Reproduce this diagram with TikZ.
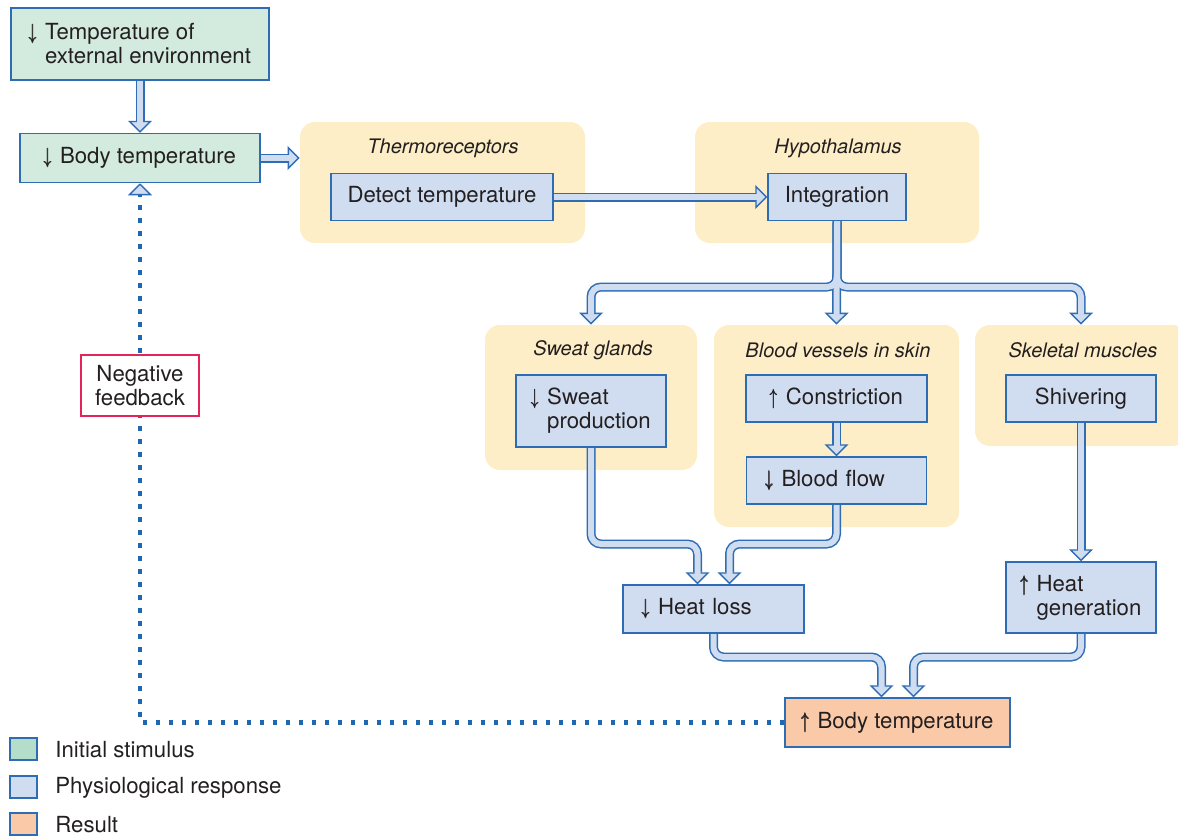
\documentclass[tikz,border=0pt]{standalone}
\usepackage{amsmath}
\usepackage{fontspec}
\setmainfont{TeX Gyre Heros}
\usetikzlibrary{arrows.meta}
\definecolor{ink}{HTML}{231F20}
\definecolor{boxline}{HTML}{2E6DB4}
\definecolor{respfill}{HTML}{D0DDF0}
\definecolor{stimfill}{HTML}{D3EADF}
\definecolor{stimkey}{HTML}{B4DEC9}
\definecolor{resfill}{HTML}{FAC9A7}
\definecolor{panelfill}{HTML}{FDEEC7}
\definecolor{dotline}{HTML}{1E68B2}
\definecolor{feedred}{HTML}{E3245A}
\pgfdeclarelayer{back}
\pgfdeclarelayer{pipes}
\pgfdeclarelayer{pipefill}
\pgfsetlayers{back,pipes,pipefill,main}
\newcommand\arrdown{\makebox[8pt][l]{\scalebox{0.7}[1]{$\pmb{\downarrow}$}}}
\newcommand\arrup{\makebox[8pt][l]{\scalebox{0.7}[1]{$\pmb{\uparrow}$}}}
\newcommand\arrpad{\hspace*{8pt}}
\tikzset{
	box/.style={draw=boxline, line width=0.75pt, fill=respfill, text=ink, inner sep=0pt, minimum height=23.5pt, align=center},
	lbox/.style={box, align=left, inner xsep=9.5pt},
	panel/.style={fill=panelfill, rounded corners=7.5pt, inner sep=0pt},
	paneltitle/.style={text=ink, font=\itshape},
	pipeout/.style={draw=boxline, line width=4.5pt, rounded corners=5pt, -{Triangle[length=6pt, width=12pt, line width=0.7pt, fill=respfill]}},
	pipein/.style={draw=respfill, line width=3pt, rounded corners=5pt, shorten >=5pt},
	feedback/.style={draw=dotline, line width=2.2pt, dash pattern=on 2.2pt off 4.3pt, -{Triangle[length=6pt, width=12pt, line width=0.7pt, fill=respfill, color=boxline]}},
	keybox/.style={draw=boxline, line width=0.75pt, minimum width=13.5pt, minimum height=11pt, inner sep=0pt},
	keytext/.style={text=ink, anchor=west, inner sep=0pt}
}
\newcommand\pipe[1]{%
	\begin{pgfonlayer}{pipes}\draw[pipeout] #1;\end{pgfonlayer}
	\begin{pgfonlayer}{pipefill}\draw[pipein] #1;\end{pgfonlayer}}
\begin{document}
\begin{tikzpicture}[x=0.5pt, y=-0.5pt, font=\fontsize{11.1}{12}\selectfont]
	\useasboundingbox (0,0) rectangle (1178,836);
	\begin{pgfonlayer}{back}
		\node[panel, minimum width=142.5pt, minimum height=60.5pt] (thermo) at (442.5,182.5) {};
		\node[panel, minimum width=142pt, minimum height=60.5pt] (hypo) at (837,182.5) {};
		\node[panel, minimum width=106pt, minimum height=72.5pt] (sweatp) at (591,397.5) {};
		\node[panel, minimum width=122.5pt, minimum height=101pt] (vesselp) at (836.5,426) {};
		\begin{scope}
			\clip (0,0) rectangle (1178,836);
			\node[panel, minimum width=106pt, minimum height=60.5pt] (musclep) at (1081,385.5) {};
		\end{scope}
	\end{pgfonlayer}
	\node[paneltitle] (thermotitle) at (443,148) {Thermoreceptors};
	\node[paneltitle] (hypotitle) at (838,148) {Hypothalamus};
	\node[paneltitle] (sweattitle) at (593,350) {Sweat glands};
	\node[paneltitle] (vesseltitle) at (838,350) {Blood vessels in skin};
	\node[paneltitle] (muscletitle) at (1083,350) {Skeletal muscles};
	\node[box, fill=stimfill, align=left, minimum width=129pt, minimum height=36pt] (envt) at (140,44) {\arrdown Temperature of\\\arrpad external environment};
	\node[box, fill=stimfill, minimum width=120pt, minimum height=24.5pt] (bodylow) at (140,158) {\arrdown Body temperature};
	\node[box, minimum width=111pt] (detect) at (442,197) {Detect temperature};
	\node[box, minimum width=69pt] (integ) at (837,197) {Integration};
	\node[box, align=left, minimum width=75pt, minimum height=36pt] (sweat) at (591,411) {\arrdown Sweat\\\arrpad production};
	\node[box, minimum width=90.5pt] (constr) at (836.5,398.5) {\arrup Constriction};
	\node[lbox, text width=71pt] (flow) at (836.5,480.5) {\arrdown Blood flow};
	\node[box, minimum width=75pt] (shiver) at (1081,398.5) {Shivering};
	\node[box, align=left, minimum width=75pt, minimum height=35.5pt] (heatgen) at (1081,597.5) {\arrup Heat\\\arrpad generation};
	\node[lbox, text width=71.5pt, minimum height=24pt] (heatloss) at (713.5,609) {\arrdown Heat loss};
	\node[box, fill=resfill, minimum width=112.5pt, minimum height=24.5pt] (bodyhigh) at (897.5,722.5) {\arrup Body temperature};
	\coordinate (split) at (837,287);
	\coordinate (lossjoin) at (713.5,544);
	\coordinate (resjoin) at (897.5,657);
	\pipe{(envt.south) -- (bodylow.north)}
	\pipe{(bodylow.east) -- (bodylow.east -| thermo.west)}
	\pipe{(detect.east) -- (integ.west)}
	\pipe{(integ.south) -- (split) -| (sweatp.north)}
	\pipe{(integ.south) -- (vesselp.north)}
	\pipe{(integ.south) -- (split) -| (musclep.north)}
	\pipe{(constr.south) -- (flow.north)}
	\pipe{(shiver.south) -- (heatgen.north)}
	\pipe{(sweat.south) |- ([xshift=-8pt]lossjoin) -- ([xshift=-8pt]heatloss.north)}
	\pipe{(flow.south) |- ([xshift=8pt]lossjoin) -- ([xshift=8pt]heatloss.north)}
	\pipe{(heatloss.south) |- ([xshift=-8pt]resjoin) -- ([xshift=-8pt]bodyhigh.north)}
	\pipe{(heatgen.south) |- ([xshift=8pt]resjoin) -- ([xshift=8pt]bodyhigh.north)}
	\draw[feedback] (bodyhigh.west) -| (bodylow.south);
	\node[draw=feedred, line width=1pt, fill=white, text=ink, minimum width=59pt, minimum height=30.5pt, inner sep=0pt, align=center] (negfb) at (140,385.5) {Negative\\feedback};
	\node[keybox, fill=stimkey] (keystim) at (23.5,749) {};
	\node[keybox, fill=respfill] (keyresp) at (23.5,787) {};
	\node[keybox, fill=resfill] (keyres) at (23.5,824) {};
	\node[keytext] (keystimtext) at (55,750) {Initial stimulus};
	\node[keytext] (keyresptext) at (55,788) {Physiological response};
	\node[keytext] (keyrestext) at (55,825) {Result};
\end{tikzpicture}
\end{document}
